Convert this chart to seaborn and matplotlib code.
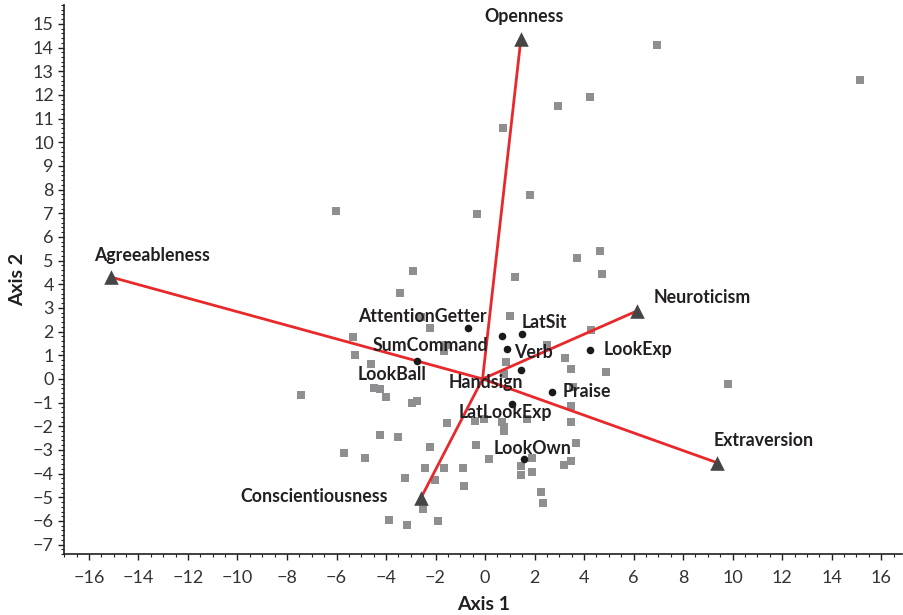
import numpy as np
import pandas as pd
import matplotlib
matplotlib.use('Agg')
import matplotlib.pyplot as plt
from matplotlib.ticker import MultipleLocator
import seaborn as sns

# gray squares (cases)
case_x = [-3.43, 1.01, -2.22, -2.59, -5.32, -5.25, -4.60, -1.56, -1.65, -7.43,
          -4.48, -4.23, -3.99, -2.96, -2.74, -1.53, -0.40, -0.04, 0.68, 0.75,
          0.76, 1.69, -4.23, -3.51, -2.22, -0.36, -5.69, -4.84, 0.16, 1.88,
          1.45, 1.90, 1.45, -2.42, -1.65, -0.89, -3.23, -2.02, -0.85, 2.25,
          2.34, 3.48, 3.48, 3.67, 3.47, 3.19, 3.23, 3.48, 4.88, 4.28,
          2.52, 0.85, 0.77, 3.54, 9.80, -2.52, -3.87, -3.15, -1.90, -6.01,
          -0.32, -2.90, 0.73, 6.94, 15.16, 4.23, 2.94, 1.81, 4.64, 3.71,
          1.21, 4.72]
case_y = [3.64, 2.67, 2.17, 2.60, 1.78, 1.01, 0.62, 1.45, 1.16, -0.66,
          -0.37, -0.44, -0.78, -1.02, -0.95, -1.88, -1.77, -1.71, -1.80, -2.03,
          -2.22, -1.71, -2.36, -2.44, -2.86, -2.78, -3.12, -3.34, -3.37, -3.33,
          -3.67, -3.93, -4.05, -3.76, -3.76, -3.76, -4.18, -4.27, -4.52, -4.76,
          -5.25, -1.16, -1.80, -2.69, -3.46, -3.63, 0.89, 0.41, 0.28, 2.08,
          1.42, 0.72, 0.21, -0.33, -0.22, -5.49, -5.97, -6.19, -6.02, 7.09,
          6.96, 4.58, 10.62, 14.12, 12.63, 11.90, 11.52, 7.78, 5.39, 5.09,
          4.32, 4.45]

# behaviour variables (black dots)
beh_names = ['AttentionGetter', 'SumCommand', 'LatSit', 'Verb', 'Handsign',
             'LookExp', 'LookBall', 'Praise', 'LatLookExp', 'LookOwn']
beh_x = [-0.67, 0.70, 1.51, 0.90, 1.45, 4.25, -2.73, 2.72, 1.07, 1.59]
beh_y = [2.14, 1.81, 1.90, 1.28, 0.37, 1.23, 0.76, -0.54, -1.05, -3.40]

# personality traits (triangles)
trait_names = ['Openness', 'Agreeableness', 'Neuroticism', 'Extraversion', 'Conscientiousness']
trait_x = [1.45, -15.1, 6.15, 9.35, -2.6]
trait_y = [14.38, 4.30, 2.88, -3.53, -5.05]
origin = (-0.1, 0.0)

# label offsets in pixels (dx, dy)
beh_offsets = {'AttentionGetter': (-46, 12), 'SumCommand': (-72, -9), 'LatSit': (22, 11),
               'Verb': (26, -4), 'Handsign': (-35, -12), 'LookExp': (48, 0),
               'LookBall': (-25, -14), 'Praise': (34, 0), 'LatLookExp': (-6, -9),
               'LookOwn': (8, 11)}
trait_offsets = {'Openness': (3, 22), 'Agreeableness': (41, 22), 'Neuroticism': (65, 13),
                 'Extraversion': (47, 22), 'Conscientiousness': (-107, 2)}

sns.set_style('ticks')
plt.rcParams['font.family'] = ['Lato', 'DejaVu Sans']

cases = pd.DataFrame({'x': case_x, 'y': case_y})
beh = pd.DataFrame({'name': beh_names, 'x': beh_x, 'y': beh_y})
traits = pd.DataFrame({'name': trait_names, 'x': trait_x, 'y': trait_y})

# segments from origin to each trait
seg = pd.concat([
    pd.DataFrame({'name': trait_names, 'x': origin[0], 'y': origin[1], 'o': 0}),
    traits.assign(o=1)
]).sort_values(['name', 'o'])

fig, ax = plt.subplots(figsize=(9.04, 6.15), dpi=100)
fig.subplots_adjust(left=0.071, right=0.998, top=0.992, bottom=0.099)

sns.scatterplot(data=cases, x='x', y='y', marker='s', s=30, color='#8f8f91',
                linewidth=0, ax=ax, zorder=2)
sns.lineplot(data=seg, x='x', y='y', units='name', estimator=None, sort=False,
             color='#e8282b', linewidth=2, ax=ax, zorder=3)
sns.scatterplot(data=beh, x='x', y='y', marker='o', s=30, color='#1a1a1a',
                linewidth=0, ax=ax, zorder=4)
sns.scatterplot(data=traits, x='x', y='y', marker='^', s=110, color='#454545',
                linewidth=0, ax=ax, zorder=5)

lab_size = 12.8
for _, r in beh.iterrows():
    dx, dy = beh_offsets[r['name']]
    ax.annotate(r['name'], (r['x'], r['y']), xytext=(dx, dy), textcoords='offset pixels',
                ha='center', va='center', fontsize=lab_size, fontweight='bold', color='#231f20', zorder=6)
for _, r in traits.iterrows():
    dx, dy = trait_offsets[r['name']]
    ax.annotate(r['name'], (r['x'], r['y']), xytext=(dx, dy), textcoords='offset pixels',
                ha='center', va='center', fontsize=lab_size, fontweight='bold', color='#231f20', zorder=6)

ax.set_xlim(-17, 16.85)
ax.set_ylim(-7.4, 15.8)
ax.xaxis.set_major_locator(MultipleLocator(2))
ax.xaxis.set_minor_locator(MultipleLocator(0.5))
ax.yaxis.set_major_locator(MultipleLocator(1))
ax.yaxis.set_minor_locator(MultipleLocator(0.2))
ax.tick_params(which='major', length=4, width=1, colors='#231f20', labelsize=13, labelcolor='#333333')
ax.tick_params(which='minor', length=2, width=0.8, colors='#231f20')
ax.tick_params(axis='x', which='major', pad=7.5)
for s in ['left', 'bottom']:
    ax.spines[s].set_color('#231f20')
    ax.spines[s].set_linewidth(1.2)
sns.despine(ax=ax)

ax.set_xlabel('Axis 1', fontsize=14, fontweight='bold', color='#231f20', labelpad=7)
ax.set_ylabel('Axis 2', fontsize=14, fontweight='bold', color='#231f20', labelpad=5)

fig.savefig('out.png', dpi=100)
